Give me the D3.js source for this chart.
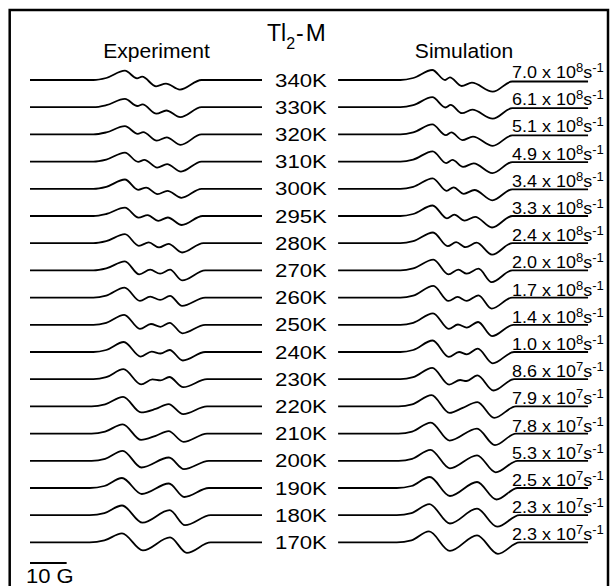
<!DOCTYPE html>
<meta charset="utf-8">
<style>
body { margin: 0; background: #fff; }
svg { display: block; font-family: "Liberation Sans", Arial, Helvetica, sans-serif; }
</style>
<body>
<script src="https://cdn.jsdelivr.net/npm/d3@7"></script>
<script>
// rows, top to bottom
const temps = ["340K", "330K", "320K", "310K", "300K", "295K", "280K", "270K", "260K",
               "250K", "240K", "230K", "220K", "210K", "200K", "190K", "180K", "170K"];

// exchange rates used in the simulations (mantissa x 10^exponent s^-1)
const rateMant = ["7.0", "6.1", "5.1", "4.9", "3.4", "3.3", "2.4", "2.0", "1.7",
                  "1.4", "1.0", "8.6", "7.9", "7.8", "5.3", "2.5", "2.3", "2.3"];
const rateExp = [8, 8, 8, 8, 8, 8, 8, 8, 8, 8, 8, 7, 7, 7, 7, 7, 7, 7];

// spectra: [field offset (G), amplitude]
const expSpectra = [
  [[-33.3,0],[-16,0],[-12.5,2],[-7.4,9.3],[-4.1,1.7],[-2.7,3.3],[1.1,-6.3],[3.8,-3.6],[7.6,-9.6],[13.5,0],[30,0]],
  [[-33.3,0],[-16,0],[-12.5,2],[-7.4,8.3],[-4.0,1.2],[-2.6,2.8],[1.2,-6.5],[3.9,-3.3],[7.7,-10],[13.5,0],[30,0]],
  [[-33.3,0],[-16,0],[-12.5,2],[-7.4,8.3],[-3.9,0.5],[-2.4,2.3],[1.3,-6.3],[4.0,-3],[7.8,-10.5],[13.5,0],[30,0]],
  [[-33.3,0],[-16,0],[-12.5,2],[-7.4,9],[-3.8,-0.3],[-2.1,1.8],[1.4,-6],[4.1,-2.6],[7.9,-10],[13.5,0],[30,0]],
  [[-33.3,0],[-16,0],[-12.5,2],[-7.4,9.3],[-3.8,-1],[-1.6,1.2],[1.5,-5.3],[4.2,-2],[8.0,-9],[13.5,0],[30,0]],
  [[-33.3,0],[-16,0],[-12.5,2],[-7.4,8.3],[-3.7,-1.6],[-1.2,0.9],[1.7,-4.8],[4.3,-1.5],[8.1,-9],[13.8,0],[30,0]],
  [[-33.3,0],[-16,0],[-12.5,2],[-7.4,9],[-3.6,-2.6],[-0.9,0.8],[1.9,-4.2],[4.5,-0.6],[8.2,-9.3],[14,0],[30,0]],
  [[-33.3,0],[-16,0],[-12.5,2],[-7.4,9],[-3.5,-4],[-0.5,0.7],[2.2,-3.3],[4.9,0.7],[8.2,-10],[14.5,0],[30,0]],
  [[-33.3,0],[-16,0],[-12.5,2],[-7.5,10],[-3.3,-3.3],[-0.5,1],[2.2,-2.3],[4.9,1.7],[8.2,-8.3],[14.5,0],[30,0]],
  [[-33.3,0],[-16,0],[-12.5,2],[-7.6,10],[-3.3,-4],[-0.3,0.8],[2.3,-2],[4.8,2],[8.3,-8.5],[14.5,0],[30,0]],
  [[-33.3,0],[-16,0],[-12.5,2],[-7.7,10],[-3.1,-4.6],[-0.1,0.4],[2.3,-1.5],[4.8,2],[8.4,-8.5],[14.5,0],[30,0]],
  [[-33.3,0],[-16,0],[-12.5,2],[-7.8,10],[-3.0,-5.2],[0.1,-0.2],[2.3,-1.2],[4.7,2.2],[8.5,-8],[15,0],[30,0]],
  [[-33.3,0],[-16.5,0],[-12.8,2],[-7.9,9.5],[-3,-6],[1,-2.5],[4.5,2.3],[8.5,-7.7],[15,0],[30,0]],
  [[-33.3,0],[-16.5,0],[-12.8,2],[-8,9.3],[-3,-6.3],[1,-2.2],[4.5,2.5],[8.6,-8.3],[15,0],[30,0]],
  [[-33.3,0],[-16.5,0],[-12.8,2],[-8,10],[-2.9,-6.7],[4.6,3.3],[8.7,-8.3],[15.5,0],[30,0]],
  [[-33.3,0],[-17,0],[-13,2],[-8.2,10],[-2.8,-6],[4.6,4.5],[8.8,-9],[15.5,0],[30,0]],
  [[-33.3,0],[-17,0],[-13,2],[-8.2,9.7],[-2.6,-7.5],[4.8,5],[9,-10],[16,0],[30,0]],
  [[-33.3,0],[-17,0],[-13,2],[-8.2,9],[-2.5,-8],[4.9,5],[9.5,-10.5],[16,0],[30,0]]
];

const simSpectra = [
  [[-33,0],[-16,0],[-12.5,2],[-7.3,10],[-3.8,0],[-2.5,2.7],[0.7,-6],[3.5,-2.7],[9.2,-11.7],[14.5,-1.5],[35.2,-1.5]],
  [[-33,0],[-16,0],[-12.5,2],[-7.3,10],[-3.7,-0.3],[-2.3,2.3],[0.8,-6],[3.6,-2.5],[9.2,-11.5],[14.5,-1],[35.2,-1]],
  [[-33,0],[-16,0],[-12.5,2],[-7.3,10],[-3.6,-0.8],[-2.1,2],[0.9,-5.7],[3.8,-2.2],[9.2,-11.5],[14.5,-1],[35.2,-1]],
  [[-33,0],[-16,0],[-12.5,2],[-7.2,10.3],[-3.5,-1.5],[-1.8,1.7],[1.1,-5.3],[4.0,-1.7],[9.1,-11.5],[14.5,-0.5],[35.2,-0.5]],
  [[-33,0],[-16,0],[-12.5,2],[-7.2,10.5],[-3.4,-2],[-1.5,1.5],[1.3,-5],[4.2,-1.2],[9.1,-11.5],[14.5,-0.5],[35.2,-0.5]],
  [[-33,0],[-16,0],[-12.5,2],[-7.2,10.5],[-3.3,-2.3],[-1.3,1.3],[1.5,-4.6],[4.4,-0.8],[9,-11.5],[14.5,0],[35.2,0]],
  [[-33,0],[-16,0],[-12.5,2],[-7.1,10.7],[-3.1,-3],[-0.8,1],[1.8,-4],[4.8,0.5],[9,-11.5],[14.5,0],[35.2,0]],
  [[-33,0],[-16,0],[-12.5,2],[-7.0,10.7],[-2.9,-4],[-0.2,0.7],[2.1,-3.3],[5.3,1.7],[8.9,-11.7],[14.5,0],[35.2,0]],
  [[-33,0],[-16,0],[-12.5,2],[-7.0,11.7],[-2.9,-3.3],[-0.4,0.7],[2.1,-3.3],[5.3,2.3],[8.9,-11],[14.5,0],[35.2,0]],
  [[-33,0],[-16,0],[-12.5,2],[-7.1,11.5],[-2.8,-4],[-0.3,0.3],[2.1,-2.8],[5.2,2.8],[9,-11.3],[14.8,0],[35.2,0]],
  [[-33,0],[-16,0],[-12.5,2],[-7.2,11.5],[-2.8,-4.8],[0,0],[2.1,-2.3],[5.1,3.3],[9.2,-11.3],[15,0],[35.2,0]],
  [[-33,0],[-16,0],[-12.5,2],[-7.3,11.3],[-2.7,-5.5],[0.3,-0.8],[2,-1.8],[5.0,3.8],[9.4,-11.3],[15,0],[35.2,0]],
  [[-33,0],[-16.5,0],[-12.8,2],[-7.5,11.3],[-2.6,-6.5],[1,-1.5],[5.0,4.3],[9.6,-11.5],[15.5,0],[35.2,0]],
  [[-33,0],[-16.5,0],[-12.8,2],[-7.7,11],[-2.6,-7],[4.9,5],[9.8,-11.5],[15.5,0],[35.2,0]],
  [[-33,0],[-16.5,0],[-12.8,2],[-7.8,11],[-2.5,-7.5],[4.9,5.5],[10,-11.5],[16,0],[35.2,0]],
  [[-33,0],[-17,0],[-13,2],[-8,11],[-2.5,-8],[4.9,6],[10.2,-11.5],[16,0],[35.2,0]],
  [[-33,0],[-17,0],[-13,2],[-8.1,11],[-2.5,-8.3],[4.9,6.5],[10.4,-11.5],[16.5,0],[35.2,0]],
  [[-33,0],[-17,0],[-13,2],[-8.2,11],[-2.5,-8.5],[4.9,7],[10.6,-11.5],[16.5,0],[35.2,0]]
];

const width = 610, height = 586;

const svg = d3.select("body").append("svg")
    .attr("width", width)
    .attr("height", height);

svg.append("rect")
    .attr("width", width).attr("height", height)
    .attr("fill", "#fff");

// frame (bottom edge falls outside the picture)
svg.append("rect")
    .attr("x", 9.7).attr("y", 10)
    .attr("width", 598.3).attr("height", 620)
    .attr("fill", "none")
    .attr("stroke", "#000")
    .attr("stroke-width", 2.5);

const row = d3.scalePoint().domain(temps).range([80, 542.4]);
const fieldExp = d3.scaleLinear().domain([-33.3, 30]).range([30, 262]);
const fieldSim = d3.scaleLinear().domain([-33.3, 30]).range([337, 569]);
const amp = d3.scaleLinear().domain([0, 10]).range([0, -10]);

function spectrumLine(fx, t) {
  return d3.line()
      .x(d => fx(d[0]))
      .y(d => row(t) + amp(d[1]))
      .curve(d3.curveMonotoneX);
}

// the lettering of the original figure is a little wider than Arial
const stretch = (x, y, sx) => `translate(${x},${y}) scale(${sx},1)`;

const rows = svg.selectAll("g.row")
    .data(temps)
  .enter().append("g")
    .attr("class", "row");

rows.append("path")
    .attr("d", (t, i) => spectrumLine(fieldExp, t)(expSpectra[i]))
    .attr("fill", "none")
    .attr("stroke", "#000")
    .attr("stroke-width", 1.8);

rows.append("path")
    .attr("d", (t, i) => spectrumLine(fieldSim, t)(simSpectra[i]))
    .attr("fill", "none")
    .attr("stroke", "#000")
    .attr("stroke-width", 1.8);

rows.append("text")
    .attr("transform", t => stretch(301, row(t) + 6.5, 1.2))
    .attr("text-anchor", "middle")
    .attr("font-size", 18.5)
    .text(t => t);

const rate = rows.append("text")
    .attr("transform", t => stretch(512, row(t) - 2, 1.09))
    .attr("font-size", 16.5);
rate.append("tspan").text((t, i) => rateMant[i] + " x 10");
rate.append("tspan").attr("dy", -6).attr("font-size", 12).text((t, i) => rateExp[i]);
rate.append("tspan").attr("dy", 6).text("s");
rate.append("tspan").attr("dy", -6).attr("font-size", 12).text("-1");

// headings
const title = svg.append("text")
    .attr("x", 267).attr("y", 41)
    .attr("font-size", 23);
title.append("tspan").text("Tl");
title.append("tspan").attr("dy", 8).attr("font-size", 16).text("2");
title.append("tspan").attr("dy", -8).attr("dx", 1).text("-");
title.append("tspan").attr("dx", 2).attr("font-size", 24).text("M");

svg.append("text")
    .attr("transform", stretch(156.5, 58, 1.08))
    .attr("text-anchor", "middle")
    .attr("font-size", 19.5)
    .text("Experiment");

svg.append("text")
    .attr("transform", stretch(464, 58, 1.08))
    .attr("text-anchor", "middle")
    .attr("font-size", 19.5)
    .text("Simulation");

// 10 G scale bar
svg.append("line")
    .attr("x1", fieldExp(-33.3)).attr("x2", fieldExp(-33.3 + 10))
    .attr("y1", 563).attr("y2", 563)
    .attr("stroke", "#000")
    .attr("stroke-width", 1.8);

svg.append("text")
    .attr("transform", stretch(26, 582.5, 1.1))
    .attr("font-size", 20)
    .text("10 G");
</script>
